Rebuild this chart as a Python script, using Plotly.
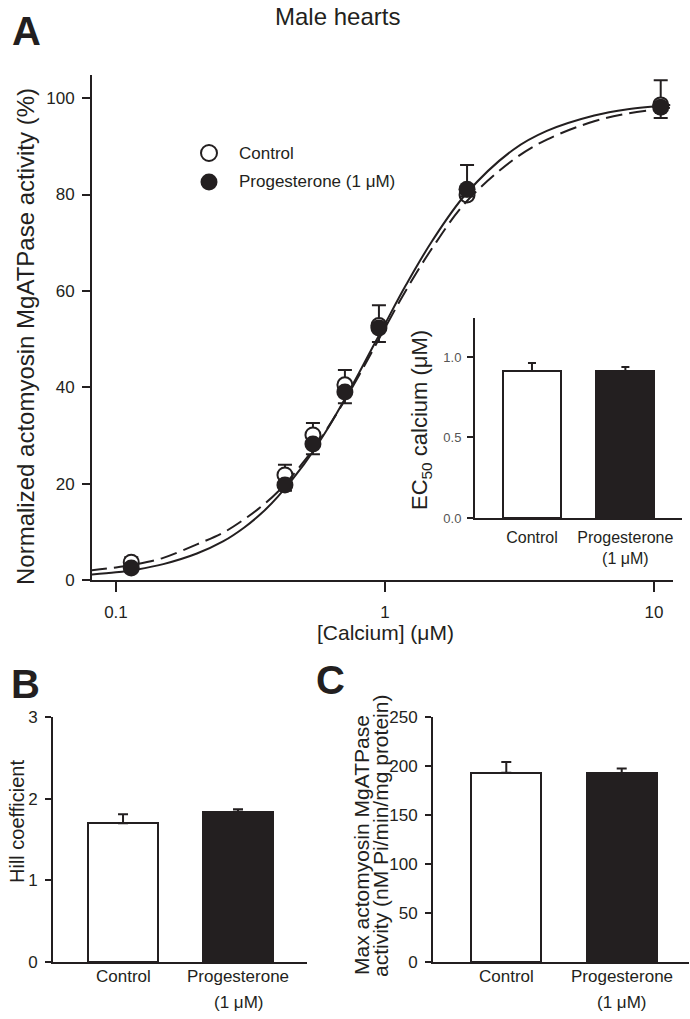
import plotly.graph_objects as go

W, H = 690, 1019
INK = "#231f20"
FONT = "Liberation Sans, Arial, Helvetica, sans-serif"

# ---------------- data ----------------
calcium = [0.114, 0.425, 0.54, 0.71, 0.95, 2.02, 10.6]
control_y = [3.7, 21.8, 30.1, 40.5, 52.8, 79.9, 98.6]
control_err = [1.0, 2.1, 2.5, 3.1, 4.2, 6.2, 5.1]
prog_y = [2.5, 19.7, 28.2, 39.0, 52.3, 81.1, 98.1]
prog_err = [0.8, 1.2, 2.1, 2.3, 2.9, 1.5, 2.2]

# fitted curves
fit_calcium = [0.08, 0.1, 0.12, 0.15, 0.2, 0.25, 0.3, 0.35, 0.4, 0.5, 0.6, 0.7, 0.8,
               0.9, 1.0, 1.2, 1.5, 2.0, 3.0, 4.0, 6.0, 8.0, 11.5]
fit_control = [2.0, 2.6, 3.3, 4.6, 7.4, 9.8, 12.6, 15.4, 18.3, 24.6, 30.8, 36.8, 42.4,
               47.6, 52.3, 60.2, 68.9, 78.4, 87.2, 91.4, 95.2, 96.8, 98.0]
fit_prog = [1.1, 1.6, 2.2, 3.3, 5.5, 8.0, 10.9, 14.0, 17.3, 24.0, 30.6, 37.0, 42.9,
            48.3, 53.1, 61.3, 70.4, 80.1, 89.3, 93.2, 96.4, 97.7, 98.6]

group_line1 = ["Control", "Progesterone"]
group_line2 = ["", "(1 μM)"]
group_pos = [0, 1]
ec50 = [0.913, 0.913]
ec50_err = [0.05, 0.025]
hill = [1.70, 1.84]
hill_err = [0.11, 0.03]
maxact = [193, 192.5]
maxact_err = [11, 5]

bar_fill = ["white", INK]


def px(x):
    return x / W


def py(y):
    return 1 - y / H


fig = go.Figure()

# ---- panel A main ----
fig.add_trace(go.Scatter(
    x=calcium, y=control_y, mode="markers", xaxis="x", yaxis="y",
    marker=dict(symbol="circle", size=15, color="white", line=dict(color=INK, width=2)),
    error_y=dict(type="data", symmetric=False, array=control_err,
                 arrayminus=[0] * len(control_err), color=INK, thickness=2, width=7),
    cliponaxis=False, showlegend=False))
fig.add_trace(go.Scatter(
    x=fit_calcium, y=fit_control, mode="lines", xaxis="x", yaxis="y",
    line=dict(color=INK, width=2, dash="17px,7px", shape="spline", smoothing=1.0),
    showlegend=False))
fig.add_trace(go.Scatter(
    x=fit_calcium, y=fit_prog, mode="lines", xaxis="x", yaxis="y",
    line=dict(color=INK, width=2, shape="spline", smoothing=1.0), showlegend=False))
fig.add_trace(go.Scatter(
    x=calcium, y=prog_y, mode="markers", xaxis="x", yaxis="y",
    marker=dict(symbol="circle", size=17, color=INK, line=dict(width=0)),
    error_y=dict(type="data", symmetric=False, array=[0] * len(prog_err),
                 arrayminus=prog_err, color=INK, thickness=2, width=7),
    cliponaxis=False, showlegend=False))


def bar_trace(vals, errs, xa, ya, width, capw):
    return go.Bar(
        x=group_pos, y=vals, xaxis=xa, yaxis=ya, width=width,
        marker=dict(color=bar_fill, line=dict(color=INK, width=2)),
        error_y=dict(type="data", symmetric=False, array=errs, arrayminus=[0, 0],
                     color=INK, thickness=2, width=capw),
        showlegend=False)


fig.add_trace(bar_trace(ec50, ec50_err, "x2", "y2", 0.62, 4))
fig.add_trace(bar_trace(hill, hill_err, "x3", "y3", 0.61, 5))
fig.add_trace(bar_trace(maxact, maxact_err, "x4", "y4", 0.61, 5))

tickfont = dict(family=FONT, size=17, color=INK)
axis_common = dict(showline=True, linecolor=INK, linewidth=2, showgrid=False,
                   zeroline=False, ticks="outside", tickcolor=INK, tickwidth=2,
                   automargin=False)

inset_ticktext = [a + ("<br>" + b if b else "") for a, b in zip(group_line1, group_line2)]

fig.update_layout(
    width=W, height=H, autosize=False,
    margin=dict(l=0, r=0, t=0, b=0, pad=0, autoexpand=False),
    paper_bgcolor="white", plot_bgcolor="rgba(0,0,0,0)",
    font=dict(family=FONT, color=INK),
    bargap=0,
    xaxis=dict(**axis_common, type="log", range=[-1.089, 1.071],
               domain=[px(92), px(673)], anchor="y",
               tickvals=[0.1, 1, 10], ticktext=["0.1", "1", "10"], ticklen=10,
               tickfont=tickfont, ticklabelstandoff=6),
    yaxis=dict(**axis_common, range=[0, 104.8], domain=[py(580), py(75)], anchor="x",
               tickvals=[0, 20, 40, 60, 80, 100], ticklen=8, tickfont=tickfont,
               ticklabelstandoff=4),
    xaxis2=dict(**axis_common, range=[-0.61, 1.606], domain=[px(475), px(682)],
                anchor="y2", tickvals=group_pos, ticktext=inset_ticktext, ticklen=0,
                tickfont=dict(family=FONT, size=16, color=INK), ticklabelstandoff=4),
    yaxis2=dict(**axis_common, range=[0, 1.242], domain=[py(518), py(318)],
                anchor="x2", tickvals=[0, 0.5, 1.0], ticktext=["0.0", "0.5", "1.0"],
                ticklen=6, tickfont=dict(family=FONT, size=13, color="#555555"),
                ticklabelstandoff=3),
    xaxis3=dict(**axis_common, range=[-0.609, 1.6], domain=[px(53), px(307)],
                anchor="y3", tickvals=group_pos, showticklabels=False, ticklen=0),
    yaxis3=dict(**axis_common, range=[0, 3], domain=[py(962), py(717)], anchor="x3",
                tickvals=[0, 1, 2, 3], ticklen=6,
                tickfont=dict(family=FONT, size=17, color=INK), ticklabelstandoff=4),
    xaxis4=dict(**axis_common, range=[-0.635, 1.583], domain=[px(433), px(689)],
                anchor="y4", tickvals=group_pos, showticklabels=False, ticklen=0),
    yaxis4=dict(**axis_common, range=[0, 250], domain=[py(962), py(717)], anchor="x4",
                tickvals=[0, 50, 100, 150, 200, 250], ticklen=6,
                tickfont=dict(family=FONT, size=17, color=INK), ticklabelstandoff=4),
)


def note(text, x, y, size, angle=0, bold=False, color=INK, xanchor="center"):
    fig.add_annotation(
        text=f"<b>{text}</b>" if bold else text,
        x=px(x), y=py(y), xref="paper", yref="paper", showarrow=False,
        textangle=angle, xanchor=xanchor, yanchor="middle",
        font=dict(family=FONT, size=size, color=color))


note("Male hearts", 337, 16, 24)
note("A", 26, 31, 40, bold=True)
note("B", 25, 684, 40, bold=True)
note("C", 330, 680, 40, bold=True)
note("Normalized actomyosin MgATPase activity (%)", 25, 337, 24, angle=-90)
note("[Calcium] (μM)", 385, 632, 21)
note("EC<sub>50</sub> calcium (μM)", 421, 420, 22, angle=-90)
note("Hill coefficient", 17, 822, 20, angle=-90)
note("Max actomyosin MgATPase", 361, 845, 21, angle=-90)
note("activity (nM Pi/min/mg protein)", 380, 836, 21, angle=-90)

# category labels for panels B and C, placed through each x axis
for xa in ["x3", "x4"]:
    for pos, l1, l2 in zip(group_pos, group_line1, group_line2):
        for txt, yy in ((l1, 976), (l2, 1002)):
            if txt:
                fig.add_annotation(
                    text=txt, x=pos, xref=xa, y=py(yy), yref="paper",
                    showarrow=False, xanchor="center", yanchor="middle",
                    font=dict(family=FONT, size=17, color=INK))

# legend
note("Control", 237, 153, 17, xanchor="left")
note("Progesterone (1 μM)", 237, 182, 17, xanchor="left")
fig.add_shape(type="circle", xref="paper", yref="paper",
              x0=px(201), x1=px(217), y0=py(161), y1=py(145),
              line=dict(color=INK, width=2), fillcolor="white")
fig.add_shape(type="circle", xref="paper", yref="paper",
              x0=px(200.5), x1=px(217.5), y0=py(190.5), y1=py(173.5),
              line=dict(color=INK, width=0), fillcolor=INK)

fig.write_html(
    "out.html",
    config={"displayModeBar": False},
    post_script="document.body.style.margin='0px';"
                "document.documentElement.style.overflow='hidden';",
)
